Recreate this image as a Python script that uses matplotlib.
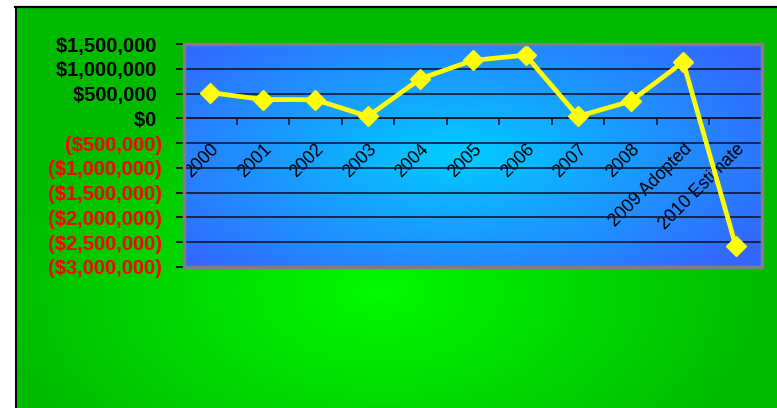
import matplotlib.pyplot as plt
import numpy as np
from matplotlib.patches import Rectangle
from matplotlib.lines import Line2D

plt.rcParams['font.family'] = ['Liberation Sans', 'DejaVu Sans']

years = ["2000", "2001", "2002", "2003", "2004", "2005", "2006", "2007",
         "2008", "2009 Adopted", "2010 Estimate"]
balance = [520000, 380000, 375000, 40000, 800000, 1170000, 1275000, 40000,
           345000, 1135000, -2570000]
yTicks = [-3000000, -2500000, -2000000, -1500000, -1000000, -500000,
          0, 500000, 1000000, 1500000]


def money(v):
    if v < 0:
        return "(${:,.0f})".format(-v)
    return "${:,.0f} ".format(v)


W, H = 777, 408
fig = plt.figure(figsize=(W / 100, H / 100), dpi=100, facecolor="white")

# green chart area with radial gradient
bx0, by0 = 16, 8
bg = fig.add_axes([bx0 / W, 0, 1 - bx0 / W, 1 - by0 / H])
px, py = np.meshgrid(np.arange(bx0, W), np.arange(by0, H))
d = np.sqrt(((px - 380) / 390.0) ** 2 + ((py - 290) / 230.0) ** 2)
t = np.clip(d, 0, 1)
bright = np.array([0, 250, 0]) / 255
edge = np.array([0, 186, 0]) / 255
img = bright[None, None, :] * (1 - t[..., None]) + edge[None, None, :] * t[..., None]
bg.imshow(img, aspect="auto", interpolation="bilinear")
bg.axis("off")

fig.add_artist(Line2D([15 / W, 1], [1 - 7 / H, 1 - 7 / H], color="black", lw=1.6))
fig.add_artist(Line2D([15.5 / W, 15.5 / W], [0, 1 - 7 / H], color="black", lw=1.4))

# plot area
l, r, top, bot = 184, 762, 44, 267
ax = fig.add_axes([l / W, 1 - bot / H, (r - l) / W, (bot - top) / H])
ax.set_xlim(-0.5, 10.5)
ax.set_ylim(-3000000, 1500000)

u, v = np.meshgrid(np.linspace(0, 1, 400), np.linspace(0, 1, 200))
d2 = np.sqrt(((u - 0.47) / 0.62) ** 2 + ((v - 0.5) / 0.75) ** 2)
t2 = np.clip(d2, 0, 1)
cin = np.array([0, 205, 255]) / 255
cout = np.array([52, 102, 255]) / 255
img2 = cin[None, None, :] * (1 - t2[..., None]) + cout[None, None, :] * t2[..., None]
ax.imshow(img2, aspect="auto", extent=(-0.5, 10.5, -3000000, 1500000),
          interpolation="bilinear", zorder=0)

ax.yaxis.grid(True, color="#0c1838", lw=1.2)
ax.set_axisbelow(True)

x = np.arange(len(years))
ax.plot(x, balance, color="#ffff00", lw=3.4, marker="D", markersize=10,
        markeredgecolor="#ffff00", zorder=4, clip_on=False)

for s in ["left", "top", "right"]:
    ax.spines[s].set_visible(False)
ax.spines["bottom"].set_position(("data", 0))
ax.spines["bottom"].set_color("#0c1838")
ax.spines["bottom"].set_linewidth(1.2)
ax.add_patch(Rectangle((0, 0), 1, 1, transform=ax.transAxes, fill=False,
                       ec="#7f7f7f", lw=2.5, clip_on=False, zorder=5))

ax.set_yticks(yTicks)
ax.set_yticklabels([money(v) for v in yTicks], fontsize=14.5, fontweight="bold")
for lab, v in zip(ax.get_yticklabels(), yTicks):
    lab.set_color("red" if v < 0 else "black")
ax.tick_params(axis="y", direction="out", length=6, width=1.2, color="black", pad=10)

ax.set_xticks(np.arange(-0.5, 11, 1))
ax.set_xticklabels([])
ax.set_xticks(x, minor=True)
ax.set_xticklabels(years, minor=True, rotation=45, ha="right", va="top",
                   rotation_mode="anchor", fontsize=12.8)
ax.tick_params(axis="x", which="major", direction="out", length=5, width=1.2,
               color="#0c1838")
ax.tick_params(axis="x", which="minor", length=0, pad=16)

fig.savefig("out.png", dpi=100, facecolor="white")
